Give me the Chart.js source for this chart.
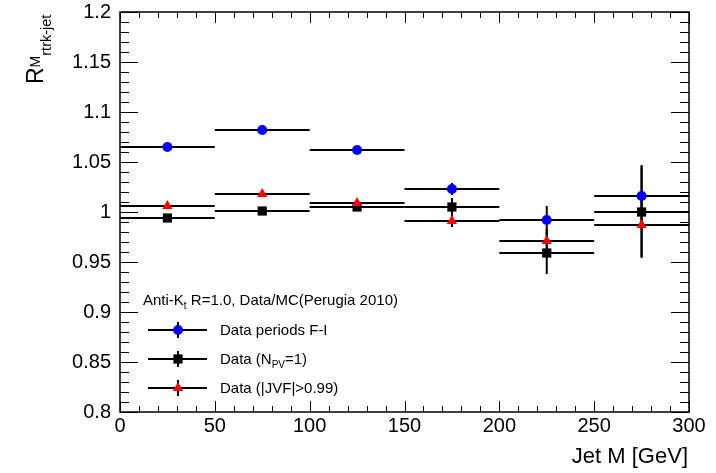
<!DOCTYPE html>
<html>
<head>
<meta charset="utf-8">
<script src="https://cdn.jsdelivr.net/npm/chart.js@4.4.1/dist/chart.umd.min.js"></script>
<style>
  html, body { margin: 0; padding: 0; background: #fff; }
  #wrap { width: 716px; height: 473px; position: relative; }
</style>
</head>
<body>
<div id="wrap"><canvas id="chart"></canvas></div>
<script>
// Jet mass bins (GeV) and half widths
var binCenters   = [25, 75, 125, 175, 225, 275];
var binHalfWidth = [25, 25, 25, 25, 25, 25];

// R^M_rtrk-jet per bin
var periodsFI    = [1.065, 1.082, 1.062, 1.023, 0.992, 1.016];
var periodsFIErr = [0.002, 0.002, 0.002, 0.006, 0.014, 0.031];
var npv1         = [0.994, 1.001, 1.005, 1.005, 0.959, 1.000];
var npv1Err      = [0.003, 0.003, 0.003, 0.009, 0.021, 0.046];
var jvf          = [1.006, 1.018, 1.009, 0.991, 0.971, 0.987];
var jvfErr       = [0.002, 0.002, 0.002, 0.006, 0.012, 0.032];

var xTickValues = [0, 50, 100, 150, 200, 250, 300];
var yTickValues = [0.8, 0.85, 0.9, 0.95, 1, 1.05, 1.1, 1.15, 1.2];
var yTickLabels = ['0.8', '0.85', '0.9', '0.95', '1', '1.05', '1.1', '1.15', '1.2'];

var FONT = "'Liberation Sans', Arial, Helvetica, sans-serif";

function points(vals, errs) {
  return binCenters.map(function (c, i) {
    return { x: c, y: vals[i], xErr: binHalfWidth[i], yErr: errs[i] };
  });
}

// draw a run of text pieces (for sub/superscripts)
function drawRuns(ctx, x, y, runs) {
  runs.forEach(function (r) {
    ctx.font = r.size + 'px ' + FONT;
    ctx.fillText(r.t, x, y + (r.dy || 0));
    x += ctx.measureText(r.t).width;
  });
  return x;
}

var errorBars = {
  id: 'errorBars',
  beforeDatasetsDraw: function (chart) {
    var ctx = chart.ctx, x = chart.scales.x, y = chart.scales.y;
    ctx.save();
    ctx.strokeStyle = '#000';
    ctx.lineWidth = 2;
    chart.data.datasets.slice().reverse().forEach(function (ds) {
      ds.data.forEach(function (p) {
        var px = x.getPixelForValue(p.x), py = y.getPixelForValue(p.y);
        ctx.beginPath();
        ctx.moveTo(x.getPixelForValue(p.x - p.xErr), py);
        ctx.lineTo(x.getPixelForValue(p.x + p.xErr), py);
        ctx.moveTo(px, y.getPixelForValue(p.y - p.yErr));
        ctx.lineTo(px, y.getPixelForValue(p.y + p.yErr));
        ctx.stroke();
      });
    });
    ctx.restore();
  }
};

// ROOT style frame with inward ticks on all four sides
var frameTicks = {
  id: 'frameTicks',
  afterDatasetsDraw: function (chart) {
    var ctx = chart.ctx, a = chart.chartArea, x = chart.scales.x, y = chart.scales.y;
    ctx.save();
    ctx.strokeStyle = '#000';
    ctx.lineWidth = 1;
    ctx.beginPath();
    for (var v = 0; v <= 300; v += 10) {
      var px = Math.round(x.getPixelForValue(v)) + 0.5;
      var len = v % 50 === 0 ? 11 : 6;
      ctx.moveTo(px, a.bottom); ctx.lineTo(px, a.bottom - len);
      ctx.moveTo(px, a.top);    ctx.lineTo(px, a.top + len);
    }
    for (var k = 0; k <= 40; k++) {
      var py = Math.round(y.getPixelForValue(0.8 + k * 0.01)) + 0.5;
      var l2 = k % 5 === 0 ? 18 : 9;
      ctx.moveTo(a.left, py);  ctx.lineTo(a.left + l2, py);
      ctx.moveTo(a.right, py); ctx.lineTo(a.right - l2, py);
    }
    ctx.stroke();
    ctx.lineWidth = 1.5;
    ctx.strokeRect(a.left, a.top, a.right - a.left, a.bottom - a.top);
    ctx.restore();
  }
};

// axis titles and the legend box
var annotations = {
  id: 'annotations',
  afterDraw: function (chart) {
    var ctx = chart.ctx, a = chart.chartArea;
    ctx.save();
    ctx.fillStyle = '#000';
    ctx.textBaseline = 'alphabetic';

    // x title
    ctx.font = '22px ' + FONT;
    ctx.textAlign = 'right';
    ctx.fillText('Jet M [GeV]', a.right - 1, 463);
    ctx.textAlign = 'left';

    // y title, rotated
    ctx.save();
    ctx.translate(43, 84);
    ctx.rotate(-Math.PI / 2);
    var xr = drawRuns(ctx, 0, 0, [{ t: 'R', size: 23 }]);
    var xm = drawRuns(ctx, xr, -3, [{ t: 'M', size: 14 }]);
    drawRuns(ctx, xm, 8, [{ t: 'rtrk-jet', size: 14.5 }]);
    ctx.restore();

    // legend header
    drawRuns(ctx, 143, 305, [
      { t: 'Anti-K', size: 15 },
      { t: 't', size: 10, dy: 4 },
      { t: ' R=1.0, Data/MC(Perugia 2010)', size: 15 }
    ]);

    var rows = [
      { y: 330, ds: 2, runs: [{ t: 'Data periods F-I', size: 15 }] },
      { y: 359, ds: 1, runs: [{ t: 'Data (N', size: 15 }, { t: 'PV', size: 10, dy: 4 }, { t: '=1)', size: 15 }] },
      { y: 388, ds: 0, runs: [{ t: 'Data (|JVF|>0.99)', size: 15 }] }
    ];
    rows.forEach(function (r) {
      var ds = chart.data.datasets[r.ds];
      ctx.strokeStyle = '#000';
      ctx.lineWidth = 2;
      ctx.beginPath();
      ctx.moveTo(148, r.y); ctx.lineTo(207, r.y);
      ctx.moveTo(178, r.y - 8); ctx.lineTo(178, r.y + 8);
      ctx.stroke();
      ctx.fillStyle = ds.backgroundColor;
      ctx.strokeStyle = ds.borderColor;
      ctx.lineWidth = 0;
      Chart.helpers.drawPoint(ctx, {
        pointStyle: ds.pointStyle, radius: ds.pointRadius, rotation: 0, borderWidth: 0
      }, 178, r.y);
      ctx.fillStyle = '#000';
      drawRuns(ctx, 220, r.y + 5, r.runs);
    });
    ctx.restore();
  }
};

new Chart(document.getElementById('chart'), {
  type: 'scatter',
  data: {
    datasets: [
      { label: 'Data (|JVF|>0.99)', data: points(jvf, jvfErr), order: 1,
        pointStyle: 'triangle', pointRadius: 6, backgroundColor: '#ff0000', borderColor: '#ff0000', borderWidth: 0 },
      { label: 'Data (NPV=1)', data: points(npv1, npv1Err), order: 2,
        pointStyle: 'rect', pointRadius: 6.5, backgroundColor: '#000000', borderColor: '#000000', borderWidth: 0 },
      { label: 'Data periods F-I', data: points(periodsFI, periodsFIErr), order: 3,
        pointStyle: 'circle', pointRadius: 5, backgroundColor: '#0000ff', borderColor: '#0000ff', borderWidth: 0 }
    ]
  },
  options: {
    responsive: true,
    maintainAspectRatio: false,
    animation: false,
    layout: { padding: { top: 12, right: 27, left: 0, bottom: 0 } },
    plugins: { legend: { display: false }, tooltip: { enabled: false } },
    elements: { point: { hoverRadius: 0 } },
    scales: {
      x: {
        type: 'linear', min: 0, max: 300,
        grid: { display: false, drawTicks: false },
        border: { display: false },
        afterBuildTicks: function (s) { s.ticks = xTickValues.map(function (v) { return { value: v }; }); },
        afterFit: function (s) { s.height = 61; s.paddingLeft = 0; s.paddingRight = 0; },
        ticks: { color: '#000', padding: 2, maxRotation: 0, font: { family: FONT, size: 20 } }
      },
      y: {
        type: 'linear', min: 0.8, max: 1.2,
        grid: { display: false, drawTicks: false },
        border: { display: false },
        afterBuildTicks: function (s) { s.ticks = yTickValues.map(function (v) { return { value: v }; }); },
        afterFit: function (s) { s.width = 120; s.paddingTop = 0; s.paddingBottom = 0; },
        ticks: {
          color: '#000', padding: 9, font: { family: FONT, size: 20 },
          callback: function (v, i) { return yTickLabels[i]; }
        }
      }
    }
  },
  plugins: [errorBars, frameTicks, annotations]
});
</script>
</body>
</html>
